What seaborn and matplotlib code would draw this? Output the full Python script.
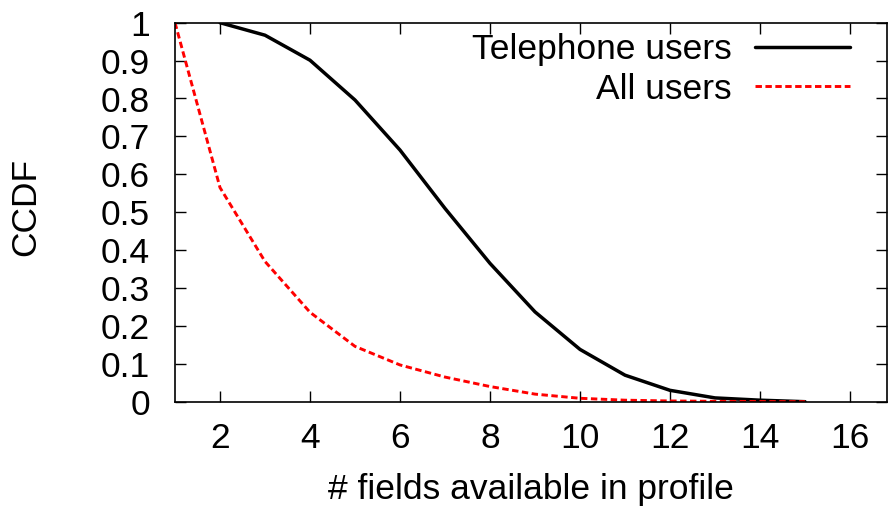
import matplotlib
matplotlib.use("Agg")
import matplotlib.pyplot as plt
import seaborn as sns

# Number of profile fields and the CCDF of each user group
fields_tel = [2, 3, 4, 5, 6, 7, 8, 9, 10, 11, 12, 13, 14, 15]
ccdf_tel = [1.0, 0.967, 0.901, 0.796, 0.664, 0.51, 0.365, 0.237, 0.138, 0.070, 0.030, 0.010, 0.004, 0.0]

fields_all = [1, 2, 3, 4, 5, 6, 7, 8, 9, 10, 11, 12, 13, 14, 15]
ccdf_all = [1.0, 0.565, 0.37, 0.236, 0.146, 0.097, 0.065, 0.040, 0.020, 0.009, 0.004, 0.002, 0.001, 0.0005, 0.0]

x_ticks = [2, 4, 6, 8, 10, 12, 14, 16]
y_ticks = [0, 0.1, 0.2, 0.3, 0.4, 0.5, 0.6, 0.7, 0.8, 0.9, 1]
y_tick_labels = ["0", "0.1", "0.2", "0.3", "0.4", "0.5", "0.6", "0.7", "0.8", "0.9", "1"]

sns.set_style("ticks")
plt.rcParams["font.family"] = ["Liberation Sans", "DejaVu Sans"]
plt.rcParams["text.color"] = "black"
plt.rcParams["axes.labelcolor"] = "black"

fig = plt.figure(figsize=(8.88, 5.11), dpi=100)
ax = fig.add_axes([175 / 888, 1 - 401.7 / 511, (887 - 175) / 888, (401.7 - 22.7) / 511])

sns.lineplot(x=fields_tel, y=ccdf_tel, ax=ax, color="black", lw=2.5,
             label="Telephone users")
sns.lineplot(x=fields_all, y=ccdf_all, ax=ax, color="#ff0000", lw=2.1,
             label="All users")
ax.lines[1].set_dashes((2.2, 1.2))

ax.set_xlim(1, 1 + (887 - 175) / 45)
ax.set_ylim(0, 1)
ax.set_xticks(x_ticks)
ax.set_yticks(y_ticks)
ax.set_yticklabels(y_tick_labels)

fs = 25.5
ax.tick_params(direction="in", length=8, width=1, top=True, right=True,
               labelsize=fs, colors="black")
ax.tick_params(axis="x", pad=14.5)
ax.tick_params(axis="y", pad=18)
for s in ax.spines.values():
    s.set_linewidth(1.2)
    s.set_color("black")

ax.set_xlabel("# fields available in profile", fontsize=fs, labelpad=13)
ax.set_ylabel("CCDF", fontsize=fs, labelpad=42)
ax.yaxis.label.set_y(0.514)

leg = ax.legend(loc="upper right", fontsize=fs, frameon=False, markerfirst=False,
                handlelength=2.68, handletextpad=0.65, labelspacing=0.19,
                borderaxespad=0, borderpad=0,
                bbox_to_anchor=(850 / 888, 1 - 33 / 511),
                bbox_transform=fig.transFigure)
for t in leg.get_texts():
    t.set_ha("right")

fig.savefig("out.png", dpi=100)
